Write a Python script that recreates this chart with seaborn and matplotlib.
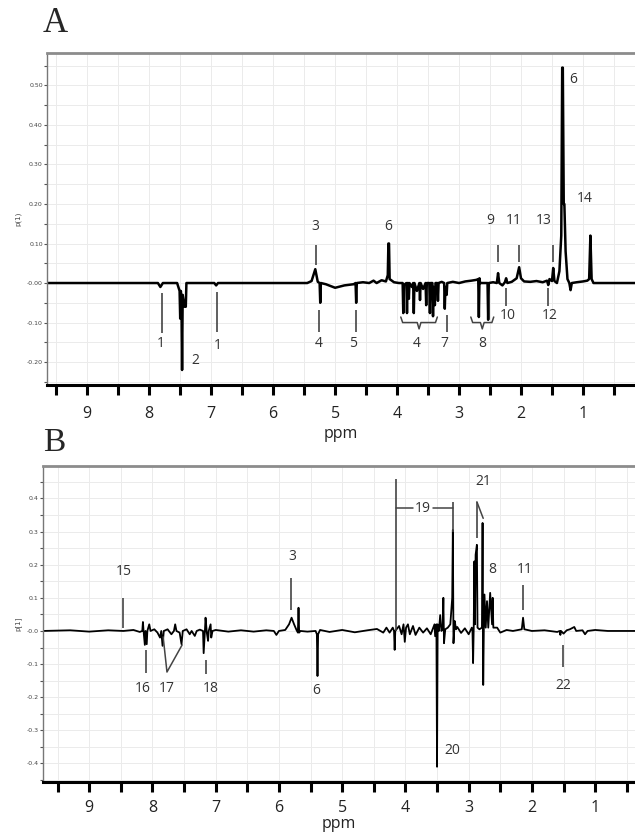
import numpy as np
import matplotlib
matplotlib.use("Agg")
import matplotlib.pyplot as plt
import seaborn as sns

sns.set_theme(style="whitegrid")
plt.rcParams['font.family'] = ['Open Sans', 'DejaVu Sans']

# ---- panel A: loading line p(1) vs chemical shift ----
ppm_a = [9.65, 7.86, 7.82, 7.78,
         7.55, 7.51, 7.50, 7.49, 7.48, 7.47, 7.46, 7.43, 7.41, 7.40,
         6.95, 6.92, 6.89,
         5.45, 5.38, 5.32, 5.28, 5.25, 5.24, 5.23,
         5.15, 5.00, 4.85, 4.70, 4.67, 4.66, 4.65,
         4.55, 4.45, 4.38, 4.33, 4.25, 4.18, 4.15, 4.14, 4.13, 4.12, 4.05, 3.97,
         3.91, 3.90, 3.89, 3.85, 3.84, 3.83, 3.82, 3.81, 3.80, 3.76, 3.74, 3.73,
         3.72, 3.68, 3.64, 3.63, 3.62, 3.58, 3.54, 3.53, 3.52, 3.48, 3.47, 3.46,
         3.43, 3.42, 3.41, 3.39, 3.38, 3.35, 3.34, 3.33,
         3.28, 3.24, 3.23, 3.22, 3.20, 3.19, 3.10, 3.00, 2.90, 2.80, 2.72,
         2.69, 2.68, 2.67, 2.66, 2.54, 2.53, 2.52, 2.45, 2.39, 2.37, 2.35,
         2.30, 2.26, 2.24, 2.22, 2.15, 2.07, 2.03, 2.00, 1.95, 1.85, 1.75,
         1.65, 1.58, 1.56, 1.54, 1.50, 1.48, 1.46, 1.42, 1.38, 1.35, 1.335,
         1.325, 1.31, 1.30, 1.28, 1.25, 1.22, 1.20, 1.18, 1.10, 1.00, 0.93,
         0.90, 0.88, 0.86, 0.83, 0.70, 0.16]
load_a = [0, 0, -0.010, 0,
          0, -0.020, -0.090, -0.020, -0.040, -0.220, -0.030, -0.060, -0.060, 0,
          0, -0.006, 0,
          0, 0.005, 0.035, 0.003, 0, -0.050, 0,
          -0.003, -0.012, -0.006, -0.003, 0, -0.050, 0,
          0.002, 0, 0.006, 0, 0.007, 0.004, 0.020, 0.100, 0.100, 0.010, 0.002, 0,
          0, -0.076, -0.005, 0, -0.076, 0, 0, -0.040, 0, -0.010, 0, -0.076,
          0, -0.020, 0, -0.043, 0, -0.015, 0, -0.056, 0, 0, -0.076, 0,
          0, -0.084, -0.010, -0.056, 0, 0, -0.045, 0,
          0.003, 0, -0.065, -0.010, -0.030, 0, 0.003, 0, 0.004, 0.006, 0.008,
          0.010, -0.086, 0.012, 0, 0, -0.093, 0, 0.002, 0, 0.025, 0,
          -0.006, 0.002, 0.012, 0, 0.003, 0.012, 0.040, 0.012, 0.004, 0.003, 0.005,
          0.002, 0.006, -0.005, 0.010, 0.005, 0.038, 0.005, 0, 0.030, 0.120, 0.545,
          0.545, 0.200, 0.200, 0.080, 0.010, 0, -0.018, 0, 0.002, 0.004, 0.006,
          0.010, 0.120, 0.010, 0, 0, 0]

labels_a = ["1", "2", "1", "3", "4", "5", "6", "4", "7", "8", "9", "10", "11", "12", "13", "6", "14"]
lab_ppm_a = [7.82, 7.26, 6.90, 5.32, 5.26, 4.71, 4.15, 3.68, 3.24, 2.63, 2.50, 2.21, 2.11, 1.53, 1.63, 1.15, 0.97]
lab_val_a = [-0.152, -0.195, -0.157, 0.144, -0.152, -0.152, 0.144, -0.152, -0.152, -0.152,
             0.157, -0.081, 0.157, -0.081, 0.157, 0.514, 0.213]

# vertical marker lines: ppm, start, end
mark_ppm_a = [7.79, 6.90, 5.31, 5.26, 4.66, 3.19, 2.37, 2.24, 2.03, 1.56, 1.48]
mark_top_a = [-0.025, -0.023, 0.096, -0.068, -0.068, -0.081, 0.096, -0.013, 0.096, -0.013, 0.096]
mark_bot_a = [-0.127, -0.124, 0.046, -0.124, -0.124, -0.124, 0.053, -0.058, 0.053, -0.058, 0.053]

# brackets under peak clusters: left, right ppm
brace_left_a = [3.94, 2.81]
brace_right_a = [3.35, 2.44]

# ---- panel B ----
ppm_b = [9.73, 9.30, 9.00, 8.70, 8.46, 8.30, 8.20,
         8.16, 8.15, 8.14, 8.12, 8.11, 8.09, 8.08, 8.05, 8.03, 7.97, 7.92, 7.88,
         7.86, 7.84, 7.82, 7.76, 7.70, 7.66, 7.64, 7.62, 7.57, 7.54, 7.52, 7.46,
         7.41, 7.38, 7.33, 7.30, 7.25, 7.20, 7.19, 7.17, 7.16, 7.14, 7.12, 7.11,
         7.08, 7.07, 7.05, 7.00, 6.80, 6.60, 6.40, 6.20, 6.08, 6.04, 6.00,
         5.90, 5.84, 5.80, 5.76, 5.72, 5.70, 5.69, 5.68, 5.66, 5.55,
         5.42, 5.40, 5.39, 5.38, 5.35, 5.20, 5.00, 4.80, 4.60, 4.45, 4.35,
         4.30, 4.25, 4.20, 4.18, 4.17, 4.16, 4.10, 4.06, 4.03, 4.01, 3.99,
         3.96, 3.93, 3.88, 3.84, 3.78, 3.72, 3.66, 3.60, 3.54, 3.53, 3.51,
         3.50, 3.49, 3.47, 3.45, 3.43, 3.41, 3.40, 3.39, 3.37, 3.33, 3.29,
         3.26, 3.25, 3.24, 3.22, 3.20, 3.18, 3.12, 3.06, 3.00, 2.95, 2.94,
         2.93, 2.92, 2.91, 2.90, 2.89, 2.87, 2.86, 2.83, 2.79, 2.78, 2.77,
         2.76, 2.75, 2.73, 2.71, 2.69, 2.66, 2.63, 2.62, 2.61, 2.59, 2.55,
         2.50, 2.40, 2.30, 2.16, 2.14, 2.12, 2.00, 1.80, 1.60, 1.56, 1.55,
         1.54, 1.50, 1.45, 1.40, 1.33, 1.30, 1.20, 1.16, 1.12, 1.00, 0.80, 0.37]
load_b = [0, 0.002, -0.002, 0.002, 0, 0.003, -0.003,
          0, 0.027, 0, -0.042, 0, -0.040, 0, 0.020, 0, 0.005, -0.005, -0.020,
          0, -0.045, 0, 0.005, -0.010, 0, 0.020, 0, -0.005, -0.040, 0, 0.005,
          -0.010, 0, -0.015, 0, 0.004, 0, -0.067, 0, 0.040, -0.005, -0.030, 0,
          0.020, -0.020, 0, 0.003, -0.002, 0.002, -0.002, 0.002, 0, -0.012, 0,
          0.003, 0.020, 0.040, 0.020, 0.002, -0.005, 0.070, -0.005, 0, -0.002,
          0, -0.010, -0.136, -0.010, 0.003, -0.003, 0.003, -0.004, 0.002, 0.006, -0.005,
          0.010, -0.005, 0.010, 0, -0.057, 0, 0.015, -0.010, 0.020, -0.033, 0.010,
          0.020, -0.010, 0.015, -0.012, 0.010, -0.005, 0.008, -0.010, 0.020, -0.016, 0.020,
          -0.410, 0.020, 0, 0.048, 0, 0.010, 0.100, -0.037, 0.005, 0.010, 0.020,
          0.100, 0.305, -0.037, 0.030, 0.005, 0.012, -0.006, 0.008, -0.010, 0.010, 0.005,
          -0.097, 0.010, 0.210, 0.020, 0.230, 0.260, 0.010, 0.005, 0.010, 0.326, -0.163,
          0.010, 0.110, 0.010, 0.090, 0.010, 0.115, 0.020, 0.100, 0.010, 0.010, 0.010,
          -0.005, 0.003, 0, 0.005, 0.040, 0.005, 0, 0.002, -0.003, 0, -0.012,
          0, -0.008, 0.002, 0.005, 0.012, 0, 0.002, -0.010, 0, 0.003, 0, 0]

labels_b = ["15", "3", "16", "17", "18", "6", "19", "20", "21", "8", "11", "22"]
lab_ppm_b = [8.46, 5.79, 8.16, 7.77, 7.07, 5.41, 3.72, 3.26, 2.77, 2.63, 2.11, 1.51]
lab_val_b = [0.180, 0.224, -0.175, -0.175, -0.175, -0.180, 0.370, -0.360, 0.450, 0.185, 0.185, -0.166]

mark_ppm_b = [8.46, 5.81, 8.10, 7.15, 2.14, 1.51, 4.15, 3.25, 2.87]
mark_top_b = [0.100, 0.160, -0.057, -0.088, 0.140, -0.042, 0.460, 0.390, 0.390]
mark_bot_b = [0.010, 0.063, -0.127, -0.130, 0.063, -0.109, 0.000, 0.300, 0.280]


def style_axes(ax, xlim, ylim, ystep_label, fmt, ylabel, tpad, xpad):
    ax.set_xlim(*xlim)
    ax.set_ylim(*ylim)
    xt = np.arange(0.5, 9.51, 0.5)
    ax.set_xticks(xt)
    ax.set_xticklabels([f"{int(t)}" if t == int(t) else "" for t in xt])
    yt = np.round(np.arange(-0.45, 0.551, 0.05), 2)
    yt = yt[(yt > ylim[0]) & (yt < ylim[1])]
    ax.set_yticks(yt)
    ylabs = []
    for t in yt:
        if abs(t / ystep_label - round(t / ystep_label)) < 1e-6:
            ylabs.append("-" + fmt % 0 if abs(t) < 1e-9 else fmt % t)
        else:
            ylabs.append("")
    ax.set_yticklabels(ylabs, family='DejaVu Sans')
    ax.grid(True, color='#ebebeb', lw=0.7)
    ax.set_facecolor('white')
    ax.spines['right'].set_visible(False)
    ax.spines['top'].set_color('#8c8c8c')
    ax.spines['top'].set_linewidth(2)
    ax.spines['left'].set_color('#777777')
    ax.spines['left'].set_linewidth(1)
    ax.spines['bottom'].set_color('black')
    ax.spines['bottom'].set_linewidth(2.2)
    ax.tick_params(axis='x', direction='out', length=7, width=2.2, color='black',
                   labelsize=11.5, pad=tpad, labelcolor='#222222', bottom=True)
    ax.tick_params(axis='y', direction='out', length=2, width=0.8, color='#555555',
                   labelsize=4.5, pad=1, labelcolor='#444444', left=True)
    ax.set_xlabel("ppm", fontsize=11.5, color='#222222', labelpad=xpad)
    ax.set_ylabel(ylabel, fontsize=5, color='#444444', labelpad=4, family='DejaVu Sans')


def annotate(ax, labels, lppm, lval, mppm, mtop, mbot):
    for t, x, y in zip(labels, lppm, lval):
        ax.text(x, y, t, ha='center', va='center', fontsize=10, color='#333333')
    ax.vlines(mppm, mbot, mtop, color='#444444', lw=1.2)


fig = plt.figure(figsize=(6.35, 8.32), dpi=100)
ax_a = fig.add_axes([47 / 635, 1 - 385 / 832, 1 - 47 / 635, (385 - 53) / 832])
ax_b = fig.add_axes([43 / 635, 1 - 782 / 832, 1 - 43 / 635, (782 - 466) / 832])

sns.lineplot(x=ppm_a, y=load_a, sort=False, estimator=None, color='black', lw=1.8, ax=ax_a)
style_axes(ax_a, (9.65, 0.16), (-0.258, 0.582), 0.1, "%.2f", "p(1)", 8, 3)
annotate(ax_a, labels_a, lab_ppm_a, lab_val_a, mark_ppm_a, mark_top_a, mark_bot_a)
for l, r in zip(brace_left_a, brace_right_a):
    c = (l + r) / 2
    ax_a.plot([l, l - 0.03, c + 0.03, c, c - 0.03, r + 0.03, r],
              [-0.086, -0.100, -0.100, -0.116, -0.100, -0.100, -0.086],
              color='#444444', lw=1.1)

sns.lineplot(x=ppm_b, y=load_b, sort=False, estimator=None, color='black', lw=1.3, ax=ax_b)
style_axes(ax_b, (9.73, 0.37), (-0.456, 0.498), 0.1, "%.1f", "p[1]", 6, 0)
annotate(ax_b, labels_b, lab_ppm_b, lab_val_b, mark_ppm_b, mark_top_b, mark_bot_b)
# bracket 19 joining two peaks, label sits in the gap
ax_b.plot([4.15, 3.88], [0.37, 0.37], color='#444444', lw=1.1)
ax_b.plot([3.56, 3.25], [0.37, 0.37], color='#444444', lw=1.1)
# 21 pointer to the second peak, 17 pointer to two peaks
ax_b.plot([2.87, 2.77], [0.39, 0.34], color='#444444', lw=1.1)
ax_b.plot([7.83, 7.77, 7.53], [-0.018, -0.124, -0.042], color='#444444', lw=1.1)

fig.text(55 / 635, 1 - 23 / 832, "A", family='Liberation Serif', fontsize=25, ha='center', va='center')
fig.text(54 / 635, 1 - 443 / 832, "B", family='Liberation Serif', fontsize=24, ha='center', va='center')

fig.savefig("out.png", dpi=100)
